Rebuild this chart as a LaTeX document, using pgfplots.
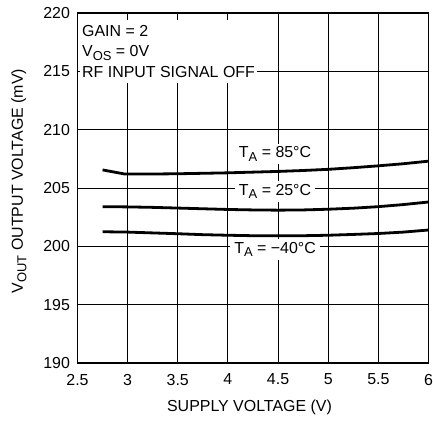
\documentclass[border=0pt]{standalone}
\usepackage{fontspec}
\setmainfont{Liberation Sans}
\usepackage{pgfplots}
\pgfplotsset{compat=1.18}
\newcommand\sub[1]{\raisebox{-0.22em}{\fontsize{13}{13}\selectfont #1}}
\begin{document}
\begin{tikzpicture}
\useasboundingbox (-77.5bp,-60bp) rectangle (355.5bp,363bp);
\begin{axis}[
  at={(0,0)}, anchor=south west,
  scale only axis,
  width=351bp, height=350bp,
  xmin=2.5, xmax=6, ymin=190, ymax=220,
  xtick={2.5,3,3.5,4,4.5,5,5.5,6}, ytick={190,195,200,205,210,215,220},
  xticklabels={2.5,3,3.5,4,4.5,5,5.5,6},
  yticklabels={190,195,200,205,210,215,220},
  grid=major,
  major grid style={black, line width=0.9bp},
  axis line style={black, line width=1.6bp},
  major tick length=0pt,
  tick label style={font=\fontsize{16}{17}\selectfont},
  xticklabel style={yshift=-7.5bp},
  yticklabel style={xshift=-4bp},
  xlabel={SUPPLY VOLTAGE (V)},
  ylabel={V\sub{OUT} OUTPUT VOLTAGE (mV)},
  label style={font=\fontsize{16}{17}\selectfont},
  xlabel style={at={(axis description cs:0.49,-0.128)}, anchor=center},
  ylabel style={at={(axis description cs:-0.167,0.52)}, anchor=center},
  clip=false,
]
\addplot[black, line width=2.8bp] coordinates {
 (2.75,206.55) (2.97,206.2) (3.25,206.2) (3.5,206.22) (3.75,206.26) (4.0,206.3) (4.25,206.36) (4.5,206.42) (4.75,206.5) (5.0,206.6) (5.25,206.74) (5.5,206.9) (5.75,207.08) (6.0,207.3)};
\addplot[black, line width=2.8bp] coordinates {
 (2.75,203.4) (3.0,203.38) (3.25,203.34) (3.5,203.28) (3.75,203.22) (4.0,203.16) (4.25,203.12) (4.5,203.1) (4.75,203.12) (5.0,203.18) (5.25,203.27) (5.5,203.4) (5.75,203.58) (6.0,203.8)};
\addplot[black, line width=2.8bp] coordinates {
 (2.75,201.25) (3.0,201.22) (3.25,201.15) (3.5,201.08) (3.75,201.0) (4.0,200.95) (4.25,200.91) (4.5,200.9) (4.75,200.91) (5.0,200.95) (5.25,201.02) (5.5,201.1) (5.75,201.22) (6.0,201.4)};
\node[fill=white, inner xsep=4bp, inner ysep=3bp, font=\fontsize{16}{17}\selectfont] at (axis cs:4.47,207.9) {T\sub{A} = 85°C};
\node[fill=white, inner xsep=4bp, inner ysep=3bp, font=\fontsize{16}{17}\selectfont] at (axis cs:4.47,204.72) {T\sub{A} = 25°C};
\node[fill=white, inner xsep=4bp, inner ysep=3bp, font=\fontsize{16}{17}\selectfont] at (axis cs:4.47,199.75) {T\sub{A} = −40°C};
\node[anchor=north west, fill=white, inner xsep=2bp, inner ysep=5bp, align=left, font=\fontsize{16}{20.7}\selectfont, xshift=2.5bp, yshift=-7bp] at (axis cs:2.5,220) {GAIN = 2\\V\sub{OS} = 0V\\RF INPUT SIGNAL OFF\hspace{5bp}};
\end{axis}
\end{tikzpicture}
\end{document}
